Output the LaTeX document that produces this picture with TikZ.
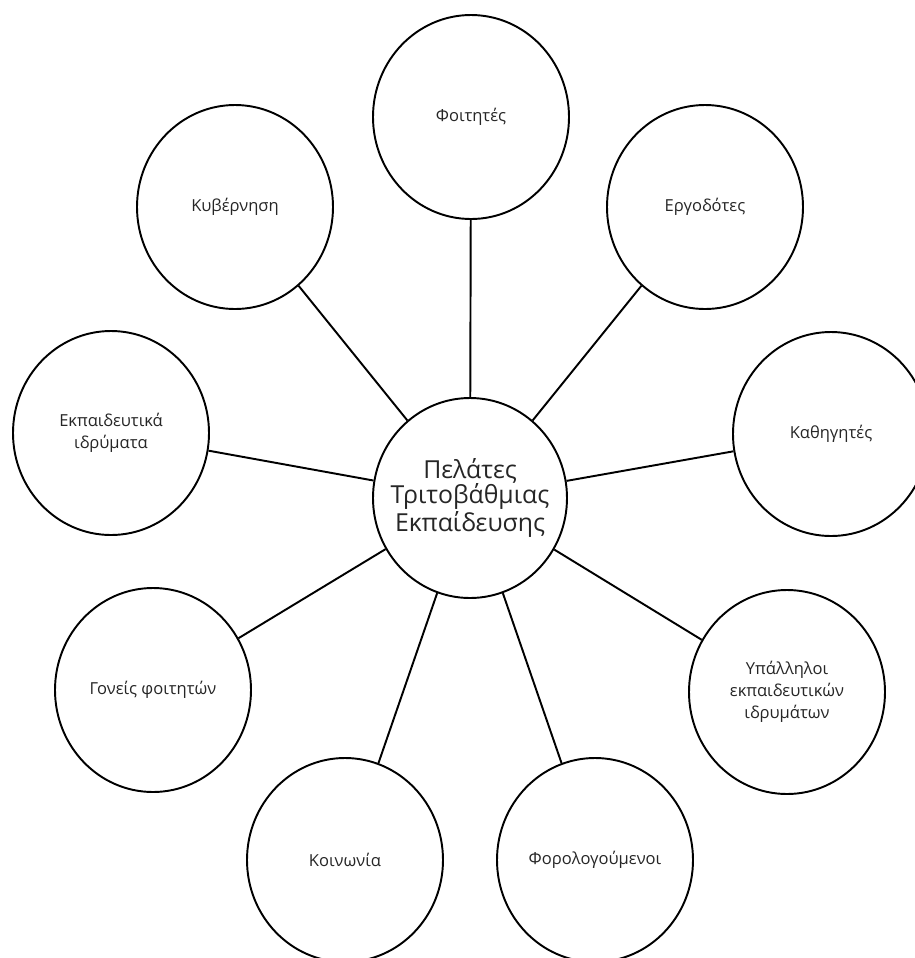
\documentclass[tikz,border=0pt]{standalone}
\usepackage{fontspec}
\setmainfont{Open Sans}
\usetikzlibrary{shapes.geometric}
\definecolor{inkline}{HTML}{000000}
\definecolor{inktext}{HTML}{262626}
\tikzset{
  bubble/.style={ellipse, draw=inkline, line width=1.45pt, fill=white,
    minimum width=147pt, minimum height=153pt, inner sep=0pt,
    align=center, text=inktext, font=\fontsize{12.4}{16.3}\selectfont},
  hubbubble/.style={bubble, minimum width=145.5pt, minimum height=150pt,
    inner sep=-20pt, font=\fontsize{18.6}{18.75}\selectfont},
  spoke/.style={draw=inkline, line width=1.45pt}
}
\begin{document}
\begin{tikzpicture}[x=0.75pt, y=-0.75pt]
\useasboundingbox (0,0) rectangle (915,958);
\fill[white] (0,0) rectangle (915,958);
% central concept
\node[hubbubble] (hub) at (470,498) {Πελάτες\\Τριτοβάθμιας\\Εκπαίδευσης};
% surrounding groups
\node[bubble] (foit) at (471,117) {Φοιτητές};
\node[bubble] (ergo) at (705,207) {Εργοδότες};
\node[bubble] (kyv)  at (235,207) {Κυβέρνηση};
\node[bubble] (kath) at (831,434) {Καθηγητές};
\node[bubble] (ekp)  at (111,433) {Εκπαιδευτικά\\ιδρύματα};
\node[bubble] (ypal) at (787,692) {Υπάλληλοι\\εκπαιδευτικών\\ιδρυμάτων};
\node[bubble] (foro) at (595,860) {Φορολογούμενοι};
\node[bubble] (koin) at (345,860) {Κοινωνία};
\node[bubble] (gon)  at (153,690) {Γονείς φοιτητών};
% spokes
\foreach \n in {foit,ergo,kyv,kath,ekp,ypal,foro,koin,gon}
  \draw[spoke] (hub) -- (\n);
\end{tikzpicture}
\end{document}
